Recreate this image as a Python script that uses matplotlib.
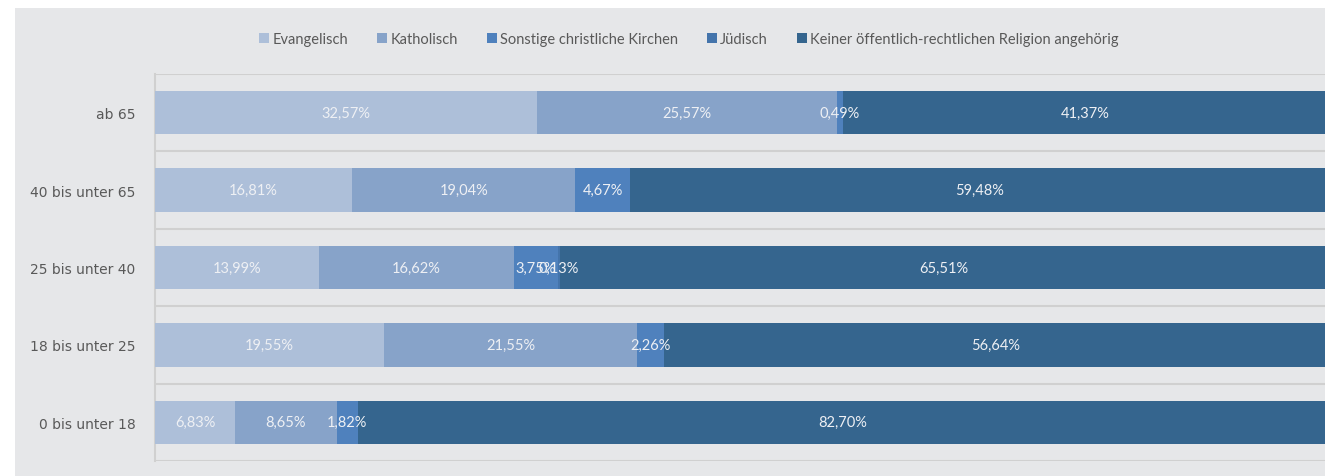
import matplotlib.pyplot as plt
import matplotlib.patches as mpatches
import numpy as np

plt.rcParams['font.family'] = ['Lato', 'DejaVu Sans']

# age groups, top to bottom
groups = ['ab 65', '40 bis unter 65', '25 bis unter 40', '18 bis unter 25', '0 bis unter 18']
series = ['Evangelisch', 'Katholisch', 'Sonstige christliche Kirchen', 'Jüdisch',
          'Keiner öffentlich-rechtlichen Religion angehörig']

evangelisch = [32.57, 16.81, 13.99, 19.55, 6.83]
katholisch = [25.57, 19.04, 16.62, 21.55, 8.65]
sonstige = [0.49, 4.67, 3.75, 2.26, 1.82]
juedisch = [0.0, 0.0, 0.13, 0.0, 0.0]
keine = [41.37, 59.48, 65.51, 56.64, 82.70]

colors = ['#adbfd9', '#87a3c9', '#4f81bd', '#4474ab', '#35658e']
bg = '#e6e7e9'
text_col = '#595959'

fig = plt.figure(figsize=(13.25, 4.77), dpi=100)
fig.patch.set_facecolor('white')
fig.patches.append(mpatches.Rectangle((15 / 1325, 0), 1, 1 - 9 / 477,
                                      transform=fig.transFigure, facecolor=bg,
                                      edgecolor='none', zorder=-5))

ax = fig.add_axes([155 / 1325, 15 / 477, 1 - 155 / 1325, (462 - 75) / 477])
ax.set_facecolor(bg)

data = [evangelisch, katholisch, sonstige, juedisch, keine]
y = np.arange(len(groups))
left = np.zeros(len(groups))
for vals, name, col in zip(data, series, colors):
    vals = np.array(vals)
    ax.barh(y, vals, left=left, height=0.56, color=col, label=name, zorder=3)
    for yi, l, v in zip(y, left, vals):
        if v > 0:
            ax.text(l + v / 2, yi, f'{v:.2f}%'.replace('.', ','), ha='center', va='center',
                    color='#eef0f4', fontsize=10.5, zorder=4)
    left += vals

ax.set_xlim(0, 99.75)
ax.set_ylim(len(groups) - 0.5, -0.5)
ax.set_yticks(y)
ax.set_yticklabels(groups, color=text_col, fontsize=10, family='DejaVu Sans')
ax.set_xticks([])
ax.set_yticks(np.arange(-0.5, len(groups)), minor=True)
ax.grid(which='minor', axis='y', color='#d0d0d0', lw=1.5, zorder=1)
ax.tick_params(axis='y', which='both', length=0, pad=14)
for s in ['top', 'right', 'bottom']:
    ax.spines[s].set_visible(False)
ax.spines['left'].set_color('#d0d0d0')
ax.spines['left'].set_linewidth(1.5)

fig.legend(loc='center', bbox_to_anchor=(0.52, 1 - 40 / 477), ncol=5, frameon=False,
           fontsize=10.5, labelcolor=text_col, handlelength=0.7, handleheight=0.7,
           handletextpad=0.2, columnspacing=2.0)

fig.savefig('out.png', dpi=100, facecolor='white')
